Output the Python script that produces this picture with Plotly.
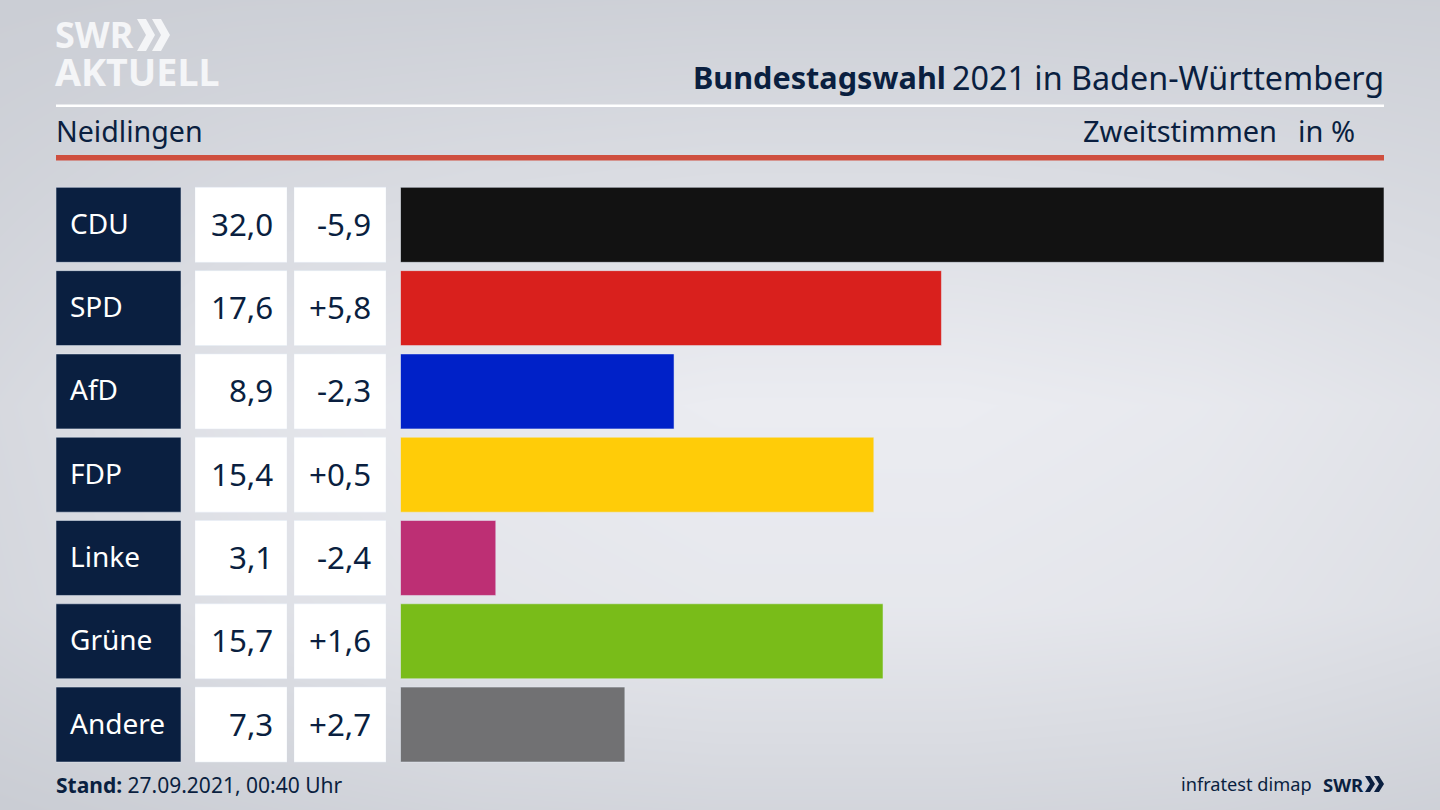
import plotly.graph_objects as go

parties = ["CDU", "SPD", "AfD", "FDP", "Linke", "Grüne", "Andere"]
shares = [32.0, 17.6, 8.9, 15.4, 3.1, 15.7, 7.3]
changes = ["-5,9", "+5,8", "-2,3", "+0,5", "-2,4", "+1,6", "+2,7"]
share_labels = ["32,0", "17,6", "8,9", "15,4", "3,1", "15,7", "7,3"]
colors = ["#121212", "#d9201d", "#0021c8", "#ffcc08", "#bd2f74", "#79bc19", "#717173"]

# background glow, lightness from 0 (edge) to 1 (middle)
glow = [
    [0.05, 0.10, 0.12, 0.14, 0.14, 0.12, 0.10],
    [0.22, 0.42, 0.52, 0.58, 0.58, 0.52, 0.40],
    [0.40, 0.72, 0.90, 1.00, 1.00, 0.90, 0.70],
    [0.34, 0.62, 0.78, 0.86, 0.86, 0.78, 0.60],
    [0.02, 0.15, 0.26, 0.30, 0.30, 0.26, 0.14],
]

W, H = 1440, 810
NAVY = "#0a1f40"
FONT = "Noto Sans"


def px(x):
    return x / W


def py(y):
    return 1 - y / H


fig = go.Figure()

fig.add_trace(go.Heatmap(
    z=glow, zsmooth="best", showscale=False, hoverinfo="skip",
    colorscale=[[0, "#c9ccd3"], [1, "#ebecf1"]], zmin=0, zmax=1,
    xaxis="x", yaxis="y",
))

cell_y = dict(domain=[py(766.2), py(183.2)], range=[6.5, -0.5], type="category",
              categoryorder="array", categoryarray=parties, visible=False)

# name box, two value boxes, bars
fig.add_trace(go.Bar(x=[1] * 7, y=parties, orientation="h", width=0.9, marker_color=NAVY,
                     xaxis="x2", yaxis="y2", hoverinfo="skip"))
fig.add_trace(go.Bar(x=[1] * 7, y=parties, orientation="h", width=0.9, marker_color="white",
                     xaxis="x3", yaxis="y3", hoverinfo="skip"))
fig.add_trace(go.Bar(x=[1] * 7, y=parties, orientation="h", width=0.9, marker_color="white",
                     xaxis="x4", yaxis="y4", hoverinfo="skip"))
fig.add_trace(go.Bar(x=shares, y=parties, orientation="h", width=0.9, marker_color=colors,
                     xaxis="x5", yaxis="y5"))

fig.update_layout(
    width=W, height=H, autosize=False, margin=dict(l=0, r=0, t=0, b=0),
    showlegend=False, paper_bgcolor="#d8dae0", plot_bgcolor="rgba(0,0,0,0)",
    font=dict(family=FONT, color=NAVY),
    xaxis=dict(domain=[0, 1], visible=False, range=[0, 6], fixedrange=True),
    yaxis=dict(domain=[0, 1], visible=False, range=[4, 0], fixedrange=True),
    xaxis2=dict(domain=[px(56), px(181)], range=[0, 1], visible=False, anchor="y2"),
    yaxis2=dict(cell_y, anchor="x2"),
    xaxis3=dict(domain=[px(195), px(287)], range=[0, 1], visible=False, anchor="y3"),
    yaxis3=dict(cell_y, anchor="x3"),
    xaxis4=dict(domain=[px(294), px(386)], range=[0, 1], visible=False, anchor="y4"),
    yaxis4=dict(cell_y, anchor="x4"),
    xaxis5=dict(domain=[px(400.5), px(1384)], range=[0, 32], visible=False, anchor="y5"),
    yaxis5=dict(cell_y, anchor="x5"),
)


def label(text, x, y, size, color=NAVY, anchor="left", yref="paper", yshift=0):
    fig.add_annotation(text=text, x=px(x), y=y, xref="paper", yref=yref, xanchor=anchor,
                       yanchor="middle", showarrow=False, align=anchor, yshift=yshift,
                       font=dict(family=FONT, size=size, color=color),
                       borderpad=0, borderwidth=0)


for i, name in enumerate(parties):
    label(name, 70, name, 28, color="white", yref="y2", yshift=2)
    label(share_labels[i], 272.5, name, 31.3, anchor="right", yref="y2", yshift=1)
    label(changes[i], 371, name, 31.3, anchor="right", yref="y2", yshift=1)

label("<b>Bundestagswahl</b>", 693, py(76.5), 30.6)
label("2021 in Baden-Württemberg", 1384, py(76.5), 32.3, anchor="right")
label("Neidlingen", 56, py(130.5), 28.6)
label("Zweitstimmen", 1277, py(130.5), 29, anchor="right")
label("in %", 1355, py(130.5), 29, anchor="right")
label("<b>Stand:</b> 27.09.2021, 00:40 Uhr", 56, py(785), 21)
label("infratest dimap", 1312, py(784), 18.2, anchor="right")

# logo
label("<b>SWR</b>", 55, py(35), 36, color="#f4f5f7")
label("<b>AKTUELL</b>", 55, py(71), 37.7, color="#f4f5f7")
label("<b>SWR</b>", 1323, py(784), 18.5)


def chevron(x0, y0, h, w, color):
    y1 = y0 + h
    d = w * 0.5
    path = (f"M {px(x0)} {py(y0)} L {px(x0 + d)} {py(y0)} L {px(x0 + w)} {py(y0 + h / 2)} "
            f"L {px(x0 + d)} {py(y1)} L {px(x0)} {py(y1)} L {px(x0 + w - d)} {py(y0 + h / 2)} Z")
    fig.add_shape(type="path", path=path, xref="paper", yref="paper", line_width=0,
                  fillcolor=color)


chevron(137, 19, 32, 18, "#f4f5f7")
chevron(152, 19, 32, 18, "#f4f5f7")
chevron(1365, 776, 16, 10, NAVY)
chevron(1374, 776, 16, 10, NAVY)

# header rules
fig.add_shape(type="rect", xref="paper", yref="paper", x0=px(56), x1=px(1384),
              y0=py(107), y1=py(104.5), fillcolor="white", line_width=0)
fig.add_shape(type="rect", xref="paper", yref="paper", x0=px(56), x1=px(1384),
              y0=py(160.5), y1=py(155), fillcolor="#cf4f3f", line_width=0)

fig.write_html("out.html", config={"displayModeBar": False},
               post_script="document.body.style.margin = '0';")
